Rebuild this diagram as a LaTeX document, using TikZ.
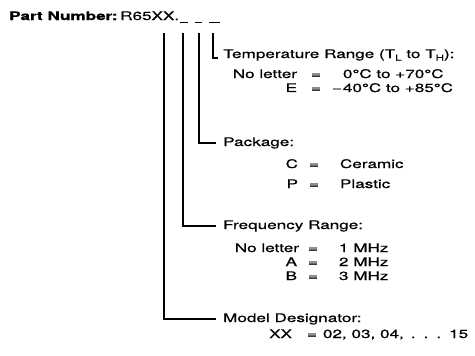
\documentclass[tikz,border=0pt]{standalone}
\usepackage{fontspec}
\newfontfamily\wide[FakeStretch=1.45, FakeBold=0.6,
  BoldFeatures={FakeStretch=1.45}]{TeX Gyre Heros}
\tikzset{
  txt/.style={font=\wide\fontsize{11.8}{14}\selectfont, inner sep=0pt, anchor=base west},
  row/.style={txt, anchor=base},
  conn/.style={line width=1.2pt}
}
\newcommand{\lowsub}[1]{\raisebox{-2.5pt}{\fontsize{8}{8}\selectfont #1}}
\begin{document}
\begin{tikzpicture}[x=1pt,y=-1pt]
\useasboundingbox (0,0) rectangle (475,356);
\node[txt] (pn) at (9,20) {\bfseries Part Number:};
\node[txt] (code) at (120,20) {R65XX.};
\draw[line width=1.4pt] (180,22.5) -- (188,22.5);
\draw[line width=1.4pt] (195,22.5) -- (202,22.5);
\draw[line width=1.4pt] (209,22.5) -- (220,22.5);

\coordinate (xx) at (164,33);
\coordinate (fr) at (183,33);
\coordinate (pk) at (199,33);
\coordinate (tr) at (213,33);

\node[txt] (temp) at (223,58) {Temperature Range (T\lowsub{L} to T\lowsub{H}):};
\node[row] (temp1) at (316,78) {\llap{No letter\hspace{14pt}}=\rlap{\hspace{22pt}0°C to +70°C}};
\node[row] (temp2) at (316,92) {\llap{E\hspace{14pt}}=\rlap{\hspace{22pt}\llap{−\kern1pt}40°C to +85°C}};

\node[txt] (pack) at (223,146) {Package:};
\node[row] (pack1) at (314,168) {\llap{C\hspace{11pt}}=\rlap{\hspace{21pt}Ceramic}};
\node[row] (pack2) at (314,188) {\llap{P\hspace{11pt}}=\rlap{\hspace{21pt}Plastic}};

\node[txt] (freq) at (223,229) {Frequency Range:};
\node[row] (freq1) at (313,252) {\llap{No letter\hspace{9pt}}=\rlap{\hspace{21pt}1 MHz}};
\node[row] (freq2) at (313,266) {\llap{A\hspace{11pt}}=\rlap{\hspace{21pt}2 MHz}};
\node[row] (freq3) at (313,280) {\llap{B\hspace{11pt}}=\rlap{\hspace{21pt}3 MHz}};

\node[txt] (model) at (223,322) {Model Designator:};
\node[row] (model1) at (312,338) {\llap{XX\hspace{15pt}}=\rlap{\hspace{6pt}02, 03, 04,\hspace{7pt}.\hspace{8pt}.\hspace{8pt}.\hspace{8pt}15}};

\draw[conn] (tr) |- ([xshift=-5pt]temp.base west);
\draw[conn] (pk) |- ([xshift=-7pt]pack.west);
\draw[conn] (fr) |- ([xshift=-7pt]freq.west);
\draw[conn] (xx) |- ([xshift=-7pt]model.west);
\end{tikzpicture}
\end{document}
